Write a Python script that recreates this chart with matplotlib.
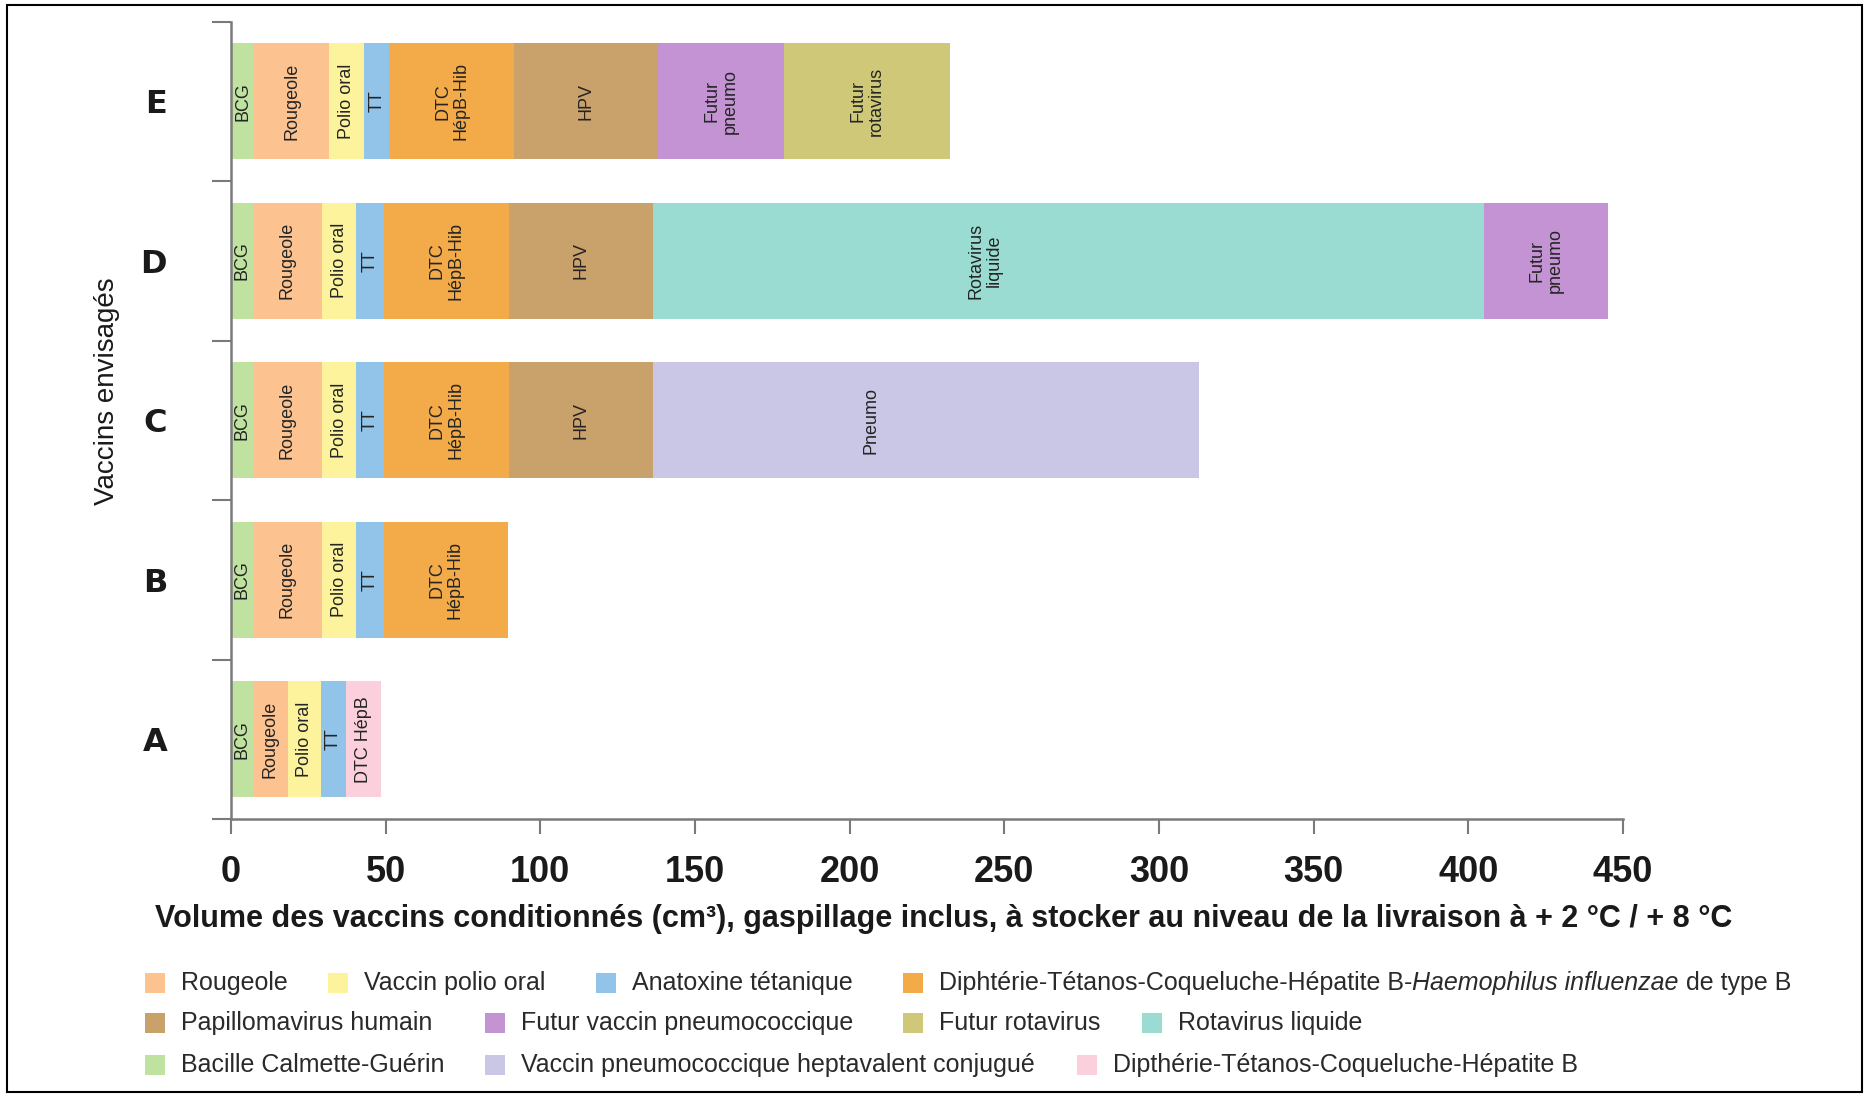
import matplotlib
matplotlib.use("Agg")
import matplotlib.pyplot as plt
from matplotlib.patches import Rectangle

plt.rcParams['font.family'] = ['Liberation Sans', 'DejaVu Sans']

# ---------------- data ----------------
categories = ["A", "B", "C", "D", "E"]

A_keys = ["BCG", "Rougeole", "Polio", "TT", "DTC_HepB"]
A_vals = [7.0, 11.5, 10.5, 8.2, 11.3]
A_text = ["BCG", "Rougeole", "Polio oral", "TT", "DTC HépB"]

B_keys = ["BCG", "Rougeole", "Polio", "TT", "DTC_Hib"]
B_vals = [7.0, 22.5, 11.0, 8.8, 40.2]
B_text = ["BCG", "Rougeole", "Polio oral", "TT", "DTC\nHépB-Hib"]

C_keys = ["BCG", "Rougeole", "Polio", "TT", "DTC_Hib", "HPV", "Pneumo7"]
C_vals = [7.0, 22.5, 11.0, 9.0, 40.4, 46.5, 176.5]
C_text = ["BCG", "Rougeole", "Polio oral", "TT", "DTC\nHépB-Hib", "HPV", "Pneumo"]

D_keys = ["BCG", "Rougeole", "Polio", "TT", "DTC_Hib", "HPV", "RotaLiq", "FuturPneumo"]
D_vals = [7.0, 22.5, 11.0, 9.0, 40.4, 46.5, 268.6, 40.1]
D_text = ["BCG", "Rougeole", "Polio oral", "TT", "DTC\nHépB-Hib", "HPV",
          "Rotavirus\nliquide", "Futur\npneumo"]

E_keys = ["BCG", "Rougeole", "Polio", "TT", "DTC_Hib", "HPV", "FuturPneumo", "FuturRota"]
E_vals = [7.5, 24.3, 11.3, 8.0, 40.5, 46.4, 40.8, 53.6]
E_text = ["BCG", "Rougeole", "Polio oral", "TT", "DTC\nHépB-Hib", "HPV",
          "Futur\npneumo", "Futur\nrotavirus"]

xticks = [0, 50, 100, 150, 200, 250, 300, 350, 400, 450]

colors = {
    "BCG": "#bfe2a0",
    "Rougeole": "#fcc390",
    "Polio": "#fdf39c",
    "TT": "#92c4ea",
    "DTC_Hib": "#f2ab48",
    "HPV": "#c9a16a",
    "FuturPneumo": "#c393d3",
    "FuturRota": "#cfc878",
    "RotaLiq": "#9adcd2",
    "Pneumo7": "#cac6e6",
    "DTC_HepB": "#fbd0dc",
}

legend_keys = [
    "Rougeole", "Polio", "TT", "DTC_Hib",
    "HPV", "FuturPneumo", "FuturRota", "RotaLiq",
    "BCG", "Pneumo7", "DTC_HepB",
]
legend_labels = [
    [("Rougeole", "normal")],
    [("Vaccin polio oral", "normal")],
    [("Anatoxine tétanique", "normal")],
    [("Diphtérie-Tétanos-Coqueluche-Hépatite B-", "normal"),
     ("Haemophilus influenzae", "italic"), (" de type B", "normal")],
    [("Papillomavirus humain", "normal")],
    [("Futur vaccin pneumococcique", "normal")],
    [("Futur rotavirus", "normal")],
    [("Rotavirus liquide", "normal")],
    [("Bacille Calmette-Guérin", "normal")],
    [("Vaccin pneumococcique heptavalent conjugué", "normal")],
    [("Dipthérie-Tétanos-Coqueluche-Hépatite B", "normal")],
]

# legend layout (pixel positions of swatch left edge, row centre)
legend_pos = [
    (145, 983), (328, 983), (596, 983), (903, 983),
    (145, 1023), (485, 1023), (903, 1023), (1142, 1023),
    (145, 1065), (485, 1065), (1077, 1065),
]

# ---------------- figure ----------------
W, H = 1870, 1095
fig = plt.figure(figsize=(W / 100, H / 100), dpi=100)
ax = fig.add_axes([231 / W, 1 - 819 / H, (1623 - 231) / W, (819 - 21.5) / H])

scenarios = [(A_keys, A_vals, A_text), (B_keys, B_vals, B_text),
             (C_keys, C_vals, C_text), (D_keys, D_vals, D_text),
             (E_keys, E_vals, E_text)]

bar_h = 0.73
for i, (keys, vals, texts) in enumerate(scenarios):
    left = 0.0
    for k, v, t in zip(keys, vals, texts):
        ax.barh(i, v, left=left, height=bar_h, color=colors[k], edgecolor='none')
        frac = 0.4 if v > 150 else 0.5
        ax.text(left + frac * v, i, t, rotation=90, ha='center', va='center',
                multialignment='center', fontsize=13, color='#242424',
                linespacing=1.1)
        left += v

ax.set_xlim(0, 450)
ax.set_ylim(-0.5, 4.5)
ax.set_xticks(xticks)
ax.set_xticklabels([str(x) for x in xticks], fontsize=26, fontweight='bold',
                   color='#1a1a1a')
ax.set_yticks(range(len(categories)))
ax.set_yticklabels(categories, fontsize=23, fontweight='bold',
                   family=['DejaVu Sans'], color='#1a1a1a')
ax.set_yticks([y - 0.5 for y in range(len(categories) + 1)], minor=True)

ax.tick_params(axis='x', length=11, width=1.5, color='#7a7a7a', pad=15)
ax.tick_params(axis='y', which='major', length=0, pad=46)
ax.tick_params(axis='y', which='minor', length=14, width=1.5, color='#7a7a7a')

for s in ['top', 'right']:
    ax.spines[s].set_visible(False)
for s in ['left', 'bottom']:
    ax.spines[s].set_color('#7a7a7a')
    ax.spines[s].set_linewidth(1.8)

# axis titles
fig.text(944 / W, 1 - 919 / H,
         "Volume des vaccins conditionnés (cm³), gaspillage inclus, à stocker au niveau de la livraison à + 2 °C / + 8 °C",
         ha='center', va='center', fontsize=22, fontweight='bold', color='#1a1a1a')
fig.text(107 / W, 1 - 391 / H, "Vaccins envisagés", rotation=90,
         ha='center', va='center', fontsize=20, color='#1a1a1a')

# legend (drawn manually)
renderer = fig.canvas.get_renderer()
sw = 20
for key, parts, (px, py) in zip(legend_keys, legend_labels, legend_pos):
    fig.patches.append(Rectangle((px / W, 1 - (py + sw / 2) / H), sw / W, sw / H,
                                 transform=fig.transFigure, facecolor=colors[key],
                                 edgecolor='none'))
    x = px + 36
    for txt, style in parts:
        t = fig.text(x / W, 1 - py / H, txt, ha='left', va='center',
                     fontsize=18, style=style, color='#2a2a2a')
        bb = t.get_window_extent(renderer)
        x += bb.width

# frame around the figure
fig.patches.append(Rectangle((7 / W, 3 / H), (1862 - 7) / W, (1090 - 3) / H,
                             transform=fig.transFigure, facecolor='none',
                             edgecolor='black', linewidth=1.5))

fig.savefig("out.png", dpi=100)
